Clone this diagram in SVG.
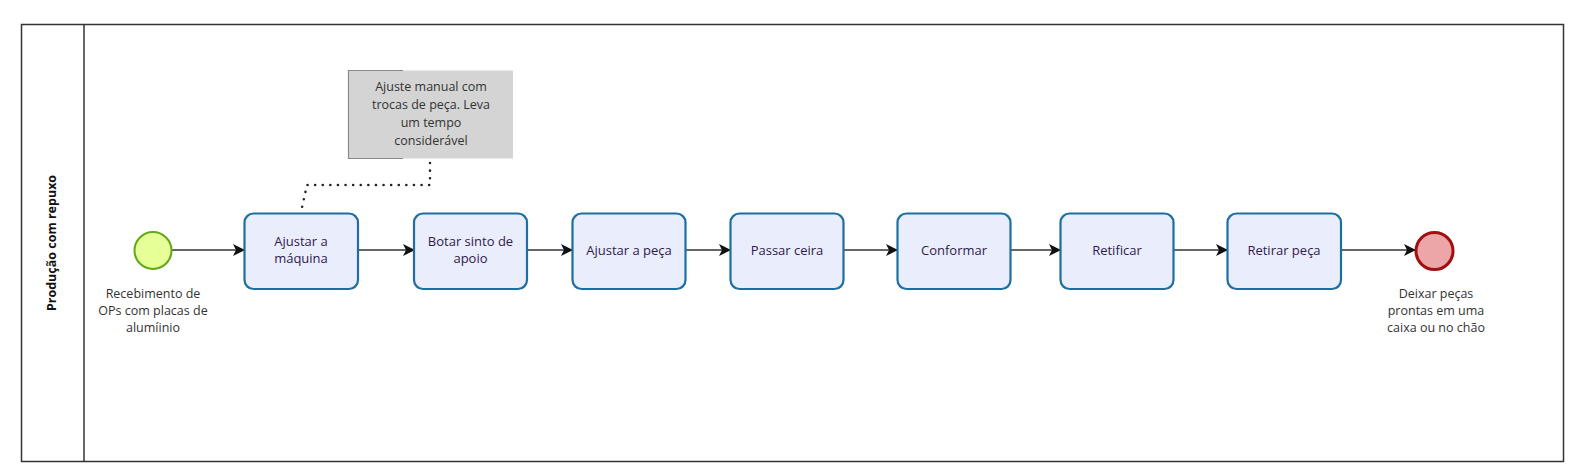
<svg xmlns="http://www.w3.org/2000/svg" width="1571" height="472" viewBox="0 0 1571 472">
<style>
.pool{fill:#ffffff;stroke:#333333;stroke-width:1.5}
.task rect{fill:#eaedfc;stroke:#1e6fa1;stroke-width:2.2}
.task text{font-family:"Open Sans","DejaVu Sans",sans-serif;font-size:13px;fill:#301a4e;text-anchor:middle}
.lbl{font-family:"Open Sans","DejaVu Sans",sans-serif;font-size:12.5px;fill:#333333;text-anchor:middle}
.flow{fill:none;stroke:#333333;stroke-width:1.5}
.assoc{fill:none;stroke:#222222;stroke-width:2.5;stroke-dasharray:0.1 7.5;stroke-linecap:round}
</style>
<defs>
<marker id="arr" viewBox="0 0 12 12" refX="11" refY="6" markerWidth="12" markerHeight="12" markerUnits="userSpaceOnUse" orient="auto">
<path d="M0,0 L12,6 L0,12 L3,6 Z" fill="#111111"/>
</marker>
</defs>
<rect x="0" y="0" width="1571" height="472" fill="#ffffff"/>
<g id="pool">
<rect class="pool" x="21.5" y="24.5" width="1542" height="437"/>
<line x1="84" y1="24.5" x2="84" y2="461.5" stroke="#333333" stroke-width="1.5"/>
<text x="56" y="243" transform="rotate(-90 56 243)" font-family="'Open Sans','DejaVu Sans',sans-serif" font-size="12.5" font-weight="bold" fill="#111111" text-anchor="middle">Produção com repuxo</text>
</g>
<g id="connectors">
<line class="flow" x1="172" y1="250" x2="244" y2="250" marker-end="url(#arr)"/>
<line class="flow" x1="358" y1="250" x2="414" y2="250" marker-end="url(#arr)"/>
<line class="flow" x1="527" y1="250" x2="572" y2="250" marker-end="url(#arr)"/>
<line class="flow" x1="685" y1="250" x2="730" y2="250" marker-end="url(#arr)"/>
<line class="flow" x1="843" y1="250" x2="897" y2="250" marker-end="url(#arr)"/>
<line class="flow" x1="1010" y1="250" x2="1060" y2="250" marker-end="url(#arr)"/>
<line class="flow" x1="1173" y1="250" x2="1227" y2="250" marker-end="url(#arr)"/>
<line class="flow" x1="1341" y1="250" x2="1415" y2="250" marker-end="url(#arr)"/>
<polyline class="assoc" points="430,163 430,185 307,185 301,212"/>
</g>
<g id="start">
<circle cx="153" cy="250.5" r="18.5" fill="#e6ff97" stroke="#62a716" stroke-width="2"/>
<text class="lbl" x="153" y="298">Recebimento de</text>
<text class="lbl" x="153" y="315">OPs com placas de</text>
<text class="lbl" x="153" y="332">alumíinio</text>
</g>
<g id="t1" class="task">
<rect x="244.5" y="213.5" width="113.5" height="75.5" rx="9"/>
<text x="301" y="246">Ajustar a</text>
<text x="301" y="263">máquina</text>
</g>
<g id="t2" class="task">
<rect x="414" y="213.5" width="113" height="75.5" rx="9"/>
<text x="470.5" y="246">Botar sinto de</text>
<text x="470.5" y="263">apoio</text>
</g>
<g id="t3" class="task">
<rect x="572.5" y="213.5" width="113" height="75.5" rx="9"/>
<text x="629" y="255">Ajustar a peça</text>
</g>
<g id="t4" class="task">
<rect x="730.5" y="213.5" width="113" height="75.5" rx="9"/>
<text x="787" y="255">Passar ceira</text>
</g>
<g id="t5" class="task">
<rect x="897.5" y="213.5" width="113" height="75.5" rx="9"/>
<text x="954" y="255">Conformar</text>
</g>
<g id="t6" class="task">
<rect x="1060.5" y="213.5" width="113" height="75.5" rx="9"/>
<text x="1117" y="255">Retificar</text>
</g>
<g id="t7" class="task">
<rect x="1227.5" y="213.5" width="113.5" height="75.5" rx="9"/>
<text x="1284" y="255">Retirar peça</text>
</g>
<g id="end">
<circle cx="1434.5" cy="251" r="18.5" fill="#eca6a8" stroke="#a20f12" stroke-width="3"/>
<text class="lbl" x="1436" y="298">Deixar peças</text>
<text class="lbl" x="1436" y="315">prontas em uma</text>
<text class="lbl" x="1436" y="332">caixa ou no chão</text>
</g>
<g id="annotation">
<rect x="348.5" y="70.5" width="164.5" height="88" fill="#d4d4d4"/>
<polyline points="403,70.5 348.5,70.5 348.5,158.5 403,158.5" fill="none" stroke="#8a8a8a" stroke-width="1.2"/>
<text class="lbl" x="431" y="91" fill="#222">Ajuste manual com</text>
<text class="lbl" x="431" y="109" fill="#222">trocas de peça. Leva</text>
<text class="lbl" x="431" y="127" fill="#222">um tempo</text>
<text class="lbl" x="431" y="145" fill="#222">considerável</text>
</g>
</svg>
